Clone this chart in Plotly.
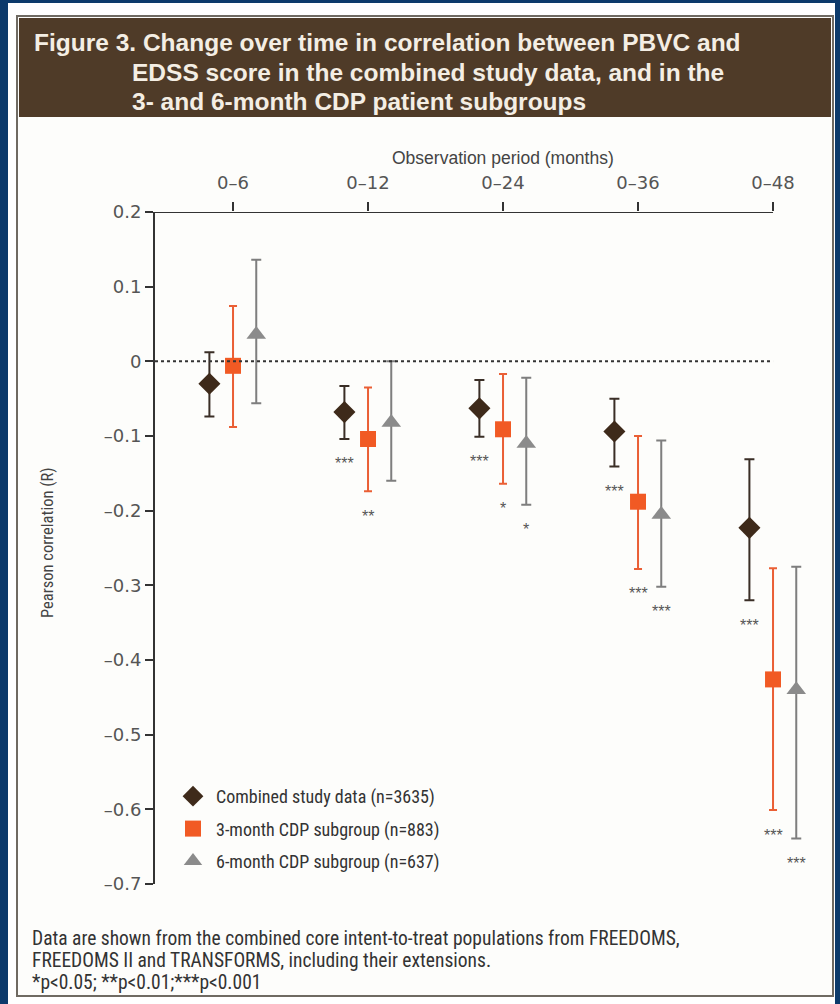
import numpy as np
import plotly.graph_objects as go

# ---------------- data ----------------
categories = ["0–6", "0–12", "0–24", "0–36", "0–48"]

combined_r = [-0.030, -0.068, -0.063, -0.094, -0.223]
combined_lo = [-0.074, -0.104, -0.101, -0.141, -0.320]
combined_hi = [0.012, -0.033, -0.025, -0.050, -0.131]
combined_sig = ["", "***", "***", "***", "***"]

cdp3_r = [-0.006, -0.104, -0.091, -0.188, -0.426]
cdp3_lo = [-0.088, -0.174, -0.164, -0.278, -0.601]
cdp3_hi = [0.074, -0.035, -0.017, -0.100, -0.277]
cdp3_sig = ["", "**", "*", "***", "***"]

cdp6_r = [0.036, -0.082, -0.110, -0.205, -0.440]
cdp6_lo = [-0.056, -0.160, -0.192, -0.302, -0.639]
cdp6_hi = [0.136, 0.000, -0.022, -0.106, -0.275]
cdp6_sig = ["", "", "*", "***", "***"]

series_names = ["Combined study data (n=3635)",
                "3-month CDP subgroup (n=883)",
                "6-month CDP subgroup (n=637)"]

y_ticks = [0.2, 0.1, 0, -0.1, -0.2, -0.3, -0.4, -0.5, -0.6, -0.7]
y_ticktext = ["0.2", "0.1", "0", "–0.1", "–0.2", "–0.3", "–0.4", "–0.5", "–0.6", "–0.7"]

# ---------------- layout geometry ----------------
W, H = 840, 1004
L, R, T, B = 155, 13, 212, 120
PW, PH = W - L - R, H - T - B
XMIN = -0.578
XMAX = XMIN + PW / 135.0


def px(x):
    return (x - L) / PW


def py(y):
    return (H - B - y) / PH


NARROW = "Liberation Sans Narrow, Arial Narrow, Roboto Condensed, sans-serif"
REG = "Liberation Sans, Arial, sans-serif"
TICKF = "DejaVu Sans, Verdana, sans-serif"

styles = [
    dict(symbol="diamond", size=17, color="#3e2a1a", bar="#3a2e26", cap=5),
    dict(symbol="square", size=16, color="#f15a24", bar="#ea5f35", cap=4),
    dict(symbol="triangle-up", size=17, color="#8b8b8b", bar="#7e7e7e", cap=5),
]
offsets = [-0.175, 0.0, 0.172]
series = [
    (combined_r, combined_lo, combined_hi, combined_sig),
    (cdp3_r, cdp3_lo, cdp3_hi, cdp3_sig),
    (cdp6_r, cdp6_lo, cdp6_hi, cdp6_sig),
]

fig = go.Figure()
annotations = []
idx = np.arange(len(categories))
for (r, lo, hi, sig), st, off, name in zip(series, styles, offsets, series_names):
    r = np.array(r)
    lo = np.array(lo)
    hi = np.array(hi)
    xs = idx + off
    fig.add_trace(go.Scatter(
        x=xs, y=r, mode="markers", name=name, legendgroup=name,
        marker=dict(symbol=st["symbol"], size=st["size"], color=st["color"],
                    line=dict(width=0)),
        error_y=dict(type="data", symmetric=False, array=hi - r, arrayminus=r - lo,
                     color=st["bar"], thickness=2, width=st["cap"]),
    ))
    for x, l, s in zip(xs, lo, sig):
        if s:
            annotations.append(dict(x=x, y=l, xref="x", yref="y", text=s,
                                    showarrow=False, yanchor="middle", yshift=-25,
                                    font=dict(family=REG, size=16, color="#555555")))

# ---------------- decorations ----------------
shapes = [
    dict(type="rect", xref="paper", yref="paper", x0=px(8), x1=px(835), y0=py(3), y1=py(1004),
         fillcolor="#ffffff", line=dict(width=0), layer="below"),
    dict(type="rect", xref="paper", yref="paper", x0=px(17), x1=px(833), y0=py(16), y1=py(996),
         fillcolor="#fdfdfb", line=dict(color="#6f6a62", width=2), layer="below"),
    dict(type="rect", xref="paper", yref="paper", x0=px(19), x1=px(831), y0=py(18), y1=py(117),
         fillcolor="#4f3b28", line=dict(width=0), layer="below"),
    dict(type="line", xref="x", yref="y", x0=XMIN, x1=4, y0=0.2, y1=0.2,
         line=dict(color="#333333", width=2)),
    dict(type="line", xref="x", yref="y", x0=XMIN, x1=4, y0=0, y1=0,
         line=dict(color="#333333", width=2, dash="dot")),
]

title_lines = [
    ("Figure 3. Change over time in correlation between PBVC and", 32, 42),
    ("EDSS score in the combined study data, and in the", 130, 72),
    ("3- and 6-month CDP patient subgroups", 130, 101),
]
for t, x, y in title_lines:
    annotations.append(dict(text=t, xref="paper", yref="paper", x=px(x), y=py(y),
                            xanchor="left", yanchor="middle", showarrow=False,
                            font=dict(family=REG, size=24.5, color="#f4eee4", weight="bold")))

annotations.append(dict(text="Observation period (months)", xref="paper", yref="paper",
                        x=px(503), y=py(158), xanchor="center", yanchor="middle",
                        showarrow=False, font=dict(family=REG, size=17.5, color="#444444")))
annotations.append(dict(text="Pearson correlation (R)", xref="paper", yref="paper",
                        x=px(47), y=py(543), xanchor="center", yanchor="middle", textangle=-90,
                        showarrow=False, font=dict(family=NARROW, size=16.5, color="#444444")))

foot = [
    ("Data are shown from the combined core intent-to-treat populations from FREEDOMS,", 938),
    ("FREEDOMS II and TRANSFORMS, including their extensions.", 960),
    ("*p<0.05; **p<0.01;***p<0.001", 982),
]
for t, y in foot:
    annotations.append(dict(text=t.replace("<", "&lt;"), xref="paper", yref="paper", x=px(30), y=py(y),
                            xanchor="left", yanchor="middle", showarrow=False,
                            font=dict(family=NARROW, size=19.5, color="#333333")))

fig.update_layout(
    width=W, height=H,
    margin=dict(l=L, r=R, t=T, b=B, pad=0),
    paper_bgcolor="#0c3a6b",
    plot_bgcolor="rgba(0,0,0,0)",
    shapes=shapes,
    annotations=annotations,
    showlegend=True,
    legend=dict(x=px(170), y=py(778), xanchor="left", yanchor="top",
                bgcolor="rgba(0,0,0,0)", tracegroupgap=6, itemwidth=36,
                font=dict(family=NARROW, size=18, color="#333333")),
    xaxis=dict(range=[XMIN, XMAX], side="top", tickmode="array", tickvals=list(idx),
               ticktext=categories, showgrid=False, zeroline=False, showline=False,
               ticks="outside", ticklen=9, tickwidth=1.5, tickcolor="#333333",
               ticklabelstandoff=6,
               tickfont=dict(family=TICKF, size=18, color="#555555")),
    yaxis=dict(range=[-0.7, 0.2], tickmode="array", tickvals=y_ticks, ticktext=y_ticktext,
               showgrid=False, zeroline=False, showline=True, linecolor="#333333", linewidth=2,
               ticks="outside", ticklen=8, tickwidth=2, tickcolor="#333333",
               tickfont=dict(family=TICKF, size=18, color="#555555")),
)

fig.write_html("out.html")
